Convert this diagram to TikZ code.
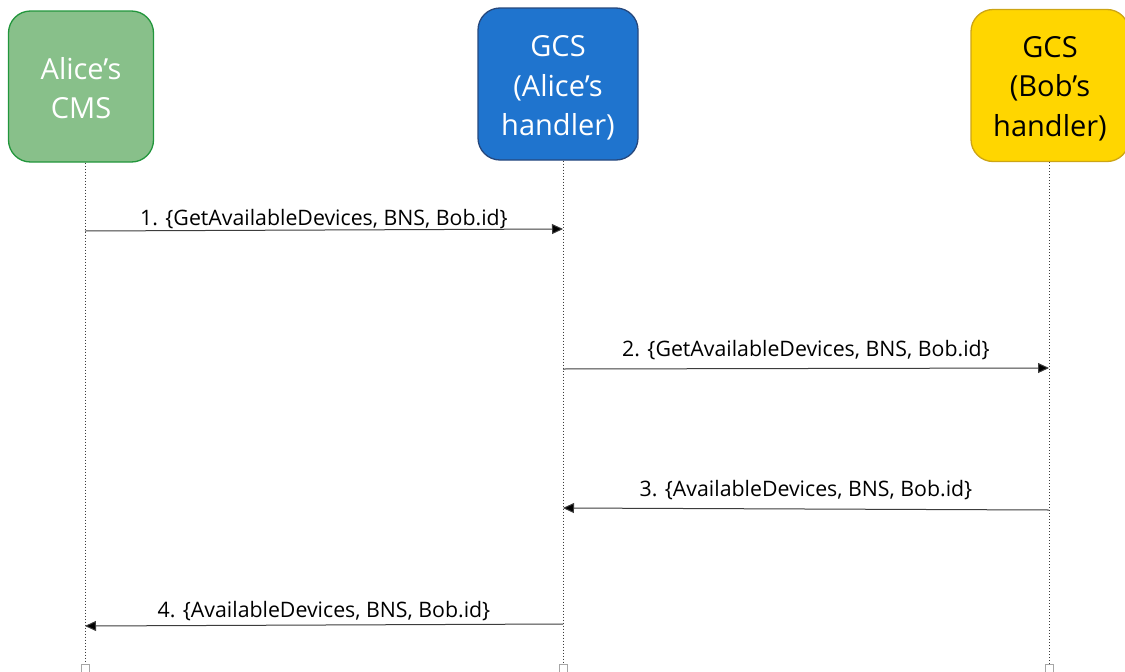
\documentclass[tikz,border=0pt]{standalone}
\usepackage{fontspec}
\setmainfont{Open Sans}
\usetikzlibrary{arrows.meta}
\definecolor{cmsfill}{RGB}{136,192,138}
\definecolor{cmsline}{RGB}{34,150,60}
\definecolor{gcsfill}{RGB}{31,116,206}
\definecolor{gcsline}{RGB}{38,72,125}
\definecolor{bobfill}{RGB}{255,214,0}
\definecolor{bobline}{RGB}{205,165,20}
\definecolor{wire}{RGB}{60,60,60}
\tikzset{
  actor/.style={draw, line width=1.3pt, rounded corners=22pt, inner sep=0pt},
  actortext/.style={align=center, inner sep=0pt, font=\fontsize{29}{39.5}\selectfont},
  lifeline/.style={draw=wire, line width=1pt, dotted},
  endbox/.style={draw=gray!70, line width=0.8pt, fill=white, minimum size=8pt,
    inner sep=0pt},
  msg/.style={draw=wire, line width=1pt, -{Triangle[length=11pt,width=10pt,fill=black]}},
  msglabel/.style={font=\fontsize{21.3}{25}\selectfont, inner sep=0pt, anchor=base}
}
\begin{document}
\begin{tikzpicture}[x=1pt,y=-1pt]
\useasboundingbox (0,0) rectangle (1125,672);

% participants
\node[actor, fill=cmsfill, draw=cmsline,
      minimum width=145pt, minimum height=151pt] (alice) at (81,86.5) {};
\node[actortext, text=white] (aliceText) at ([yshift=-1.5pt]alice.center) {Alice’s\\CMS};
\node[actor, fill=gcsfill, draw=gcsline,
      minimum width=160pt, minimum height=152pt] (gcsA) at (558,84) {};
\node[actortext, text=white] (gcsAText) at ([yshift=-4pt]gcsA.center) {GCS\\(Alice’s\\handler)};
\node[actor, fill=bobfill, draw=bobline,
      minimum width=158pt, minimum height=152pt] (gcsB) at (1050,85.5) {};
\node[actortext, text=black] (gcsBText) at ([yshift=-3pt]gcsB.center) {GCS\\(Bob’s\\handler)};

% lifeline ends
\node[endbox] (aliceEnd) at (85,668) {};
\node[endbox] (gcsAEnd) at (563,668) {};
\node[endbox] (gcsBEnd) at (1049,668) {};

% lifelines
\draw[lifeline] (alice.south -| aliceEnd) -- (aliceEnd.north);
\draw[lifeline] (gcsA.south -| gcsAEnd) -- (gcsAEnd.north);
\draw[lifeline] (gcsB.south -| gcsBEnd) -- (gcsBEnd.north);

% message end points on the lifelines
\coordinate (m1s) at (85,231);
\coordinate (m1e) at (563,229);
\coordinate (m2s) at (563,369);
\coordinate (m2e) at (1049,368);
\coordinate (m3s) at (1049,510);
\coordinate (m3e) at (563,508);
\coordinate (m4s) at (563,624);
\coordinate (m4e) at (85,626);

% messages
\draw[msg] (m1s) -- (m1e);
\draw[msg] (m2s) -- (m2e);
\draw[msg] (m3s) -- (m3e);
\draw[msg] (m4s) -- (m4e);

% message labels
\node[msglabel] (l1) at (324,225) {1. \{GetAvailableDevices, BNS, Bob.id\}};
\node[msglabel] (l2) at (806,356) {2. \{GetAvailableDevices, BNS, Bob.id\}};
\node[msglabel] (l3) at (806,496) {3. \{AvailableDevices, BNS, Bob.id\}};
\node[msglabel] (l4) at (324,617) {4. \{AvailableDevices, BNS, Bob.id\}};
\end{tikzpicture}
\end{document}
